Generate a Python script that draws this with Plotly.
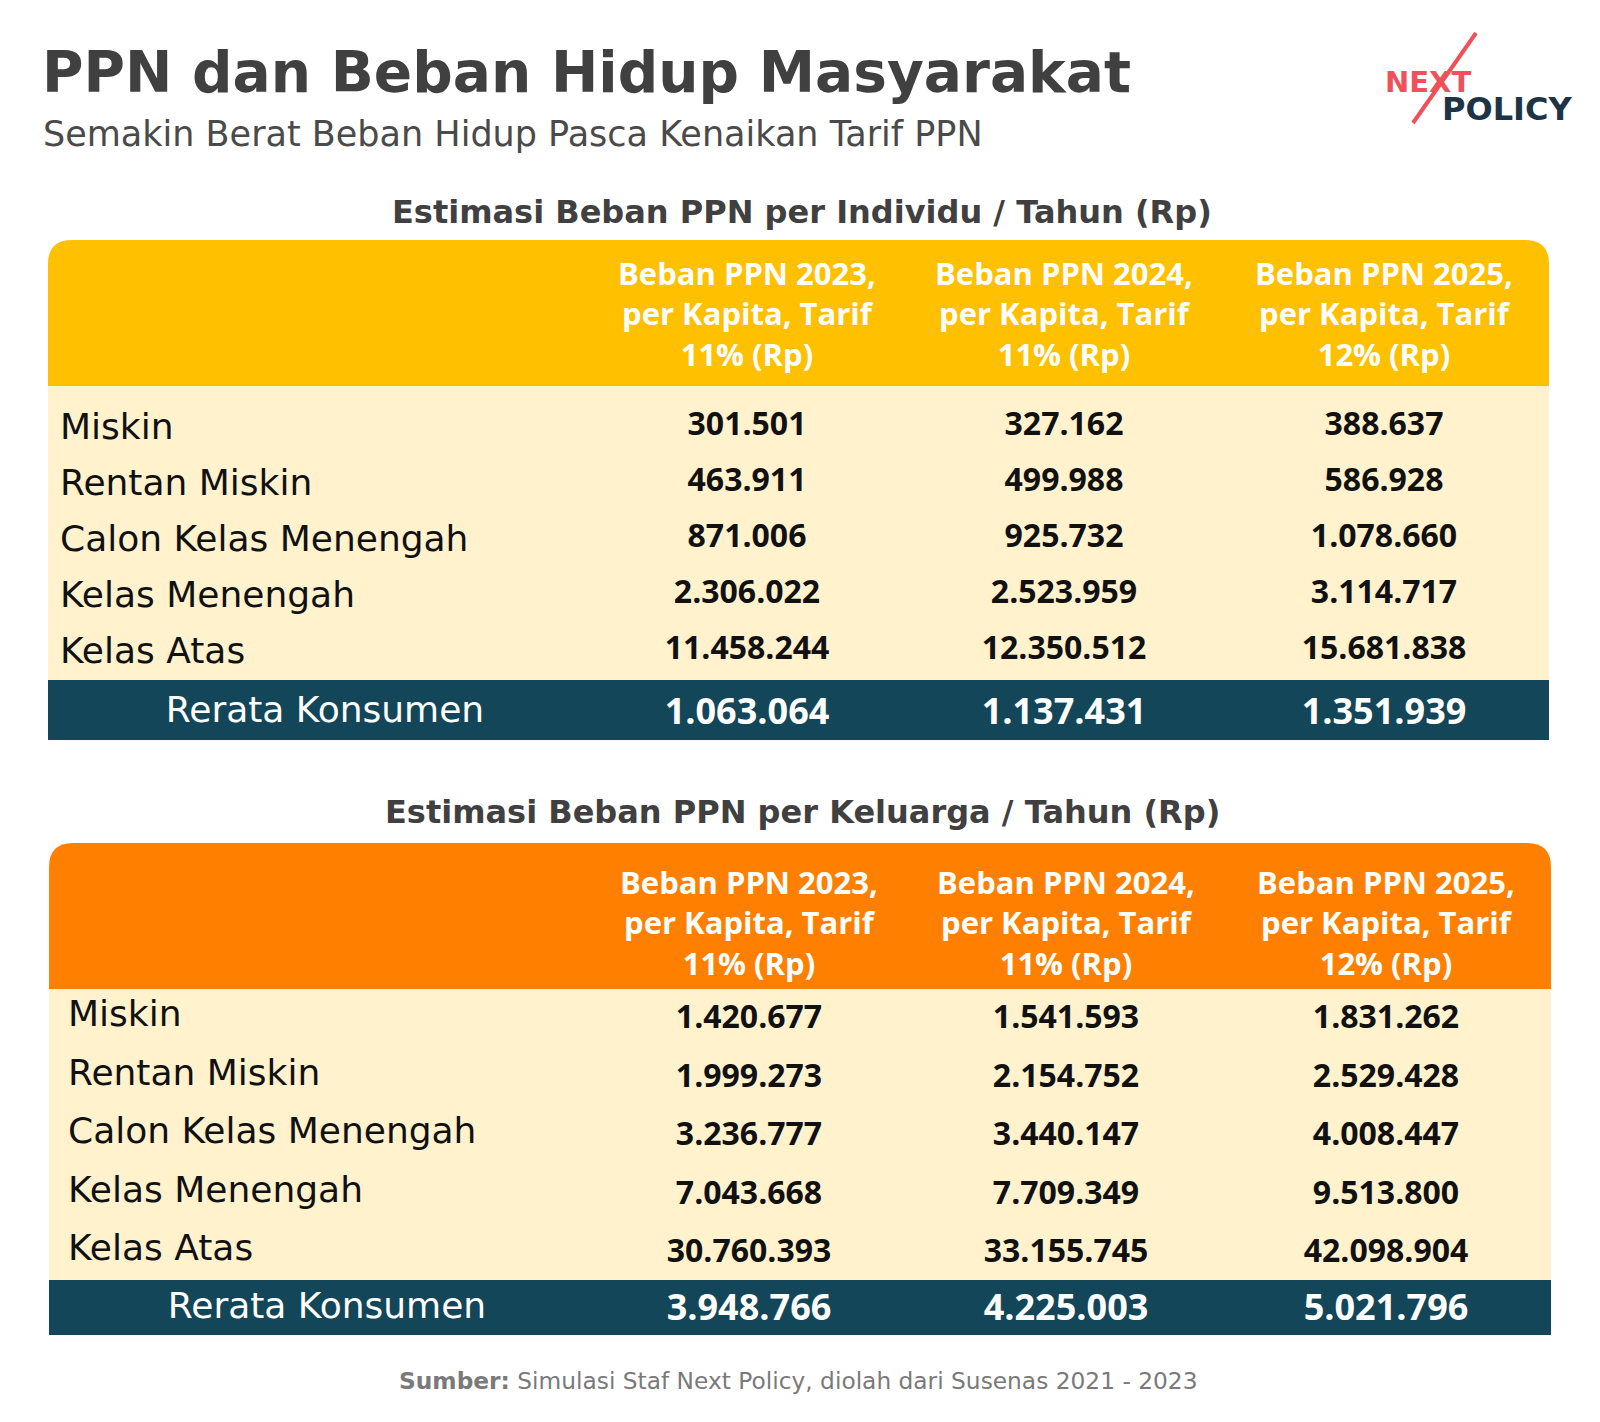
import plotly.graph_objects as go

# ---- data ----
row_labels = ["Miskin", "Rentan Miskin", "Calon Kelas Menengah", "Kelas Menengah", "Kelas Atas"]
footer_label = "Rerata Konsumen"
col_headers_ind = [
    "Beban PPN 2023,<br>per Kapita, Tarif<br>11% (Rp)",
    "Beban PPN 2024,<br>per Kapita, Tarif<br>11% (Rp)",
    "Beban PPN 2025,<br>per Kapita, Tarif<br>12% (Rp)",
]
col_headers_kel = col_headers_ind

ind_2023 = [301501, 463911, 871006, 2306022, 11458244]
ind_2024 = [327162, 499988, 925732, 2523959, 12350512]
ind_2025 = [388637, 586928, 1078660, 3114717, 15681838]
ind_avg = [1063064, 1137431, 1351939]

kel_2023 = [1420677, 1999273, 3236777, 7043668, 30760393]
kel_2024 = [1541593, 2154752, 3440147, 7709349, 33155745]
kel_2025 = [1831262, 2529428, 4008447, 9513800, 42098904]
kel_avg = [3948766, 4225003, 5021796]

W, H = 1600, 1422
OFF = 8  # page body margin
TXT = "#404040"
CREAM = "#FFF2CC"
TEAL = "#134659"
NUM_FONT = "Open Sans"
GEO_FONT = "DejaVu Sans"


def rp(v):
    return f"{v:,}".replace(",", ".")


fig = go.Figure()
shapes = []
annotations = []


def rounded_top(x0, y0, x1, y1, r, color):
    path = (f"M {x0},{y1} L {x0},{y0 + r} Q {x0},{y0} {x0 + r},{y0} "
            f"L {x1 - r},{y0} Q {x1},{y0} {x1},{y0 + r} L {x1},{y1} Z")
    return dict(type="path", path=path, fillcolor=color, line_width=0, layer="below")


def draw_table(x0, x1, top, head_h, body_h, foot_h, head_color, headers, cols, avgs,
               col_x, label_x, foot_x, row_first, row_step, num_dy, head_dy, foot_dy):
    head_bot = top + head_h
    body_bot = head_bot + body_h
    foot_bot = body_bot + foot_h
    shapes.append(rounded_top(x0, top, x1, head_bot, 24, head_color))
    shapes.append(dict(type="rect", x0=x0, x1=x1, y0=head_bot, y1=body_bot,
                       fillcolor=CREAM, line_width=0, layer="below"))
    shapes.append(dict(type="rect", x0=x0, x1=x1, y0=body_bot, y1=foot_bot,
                       fillcolor=TEAL, line_width=0, layer="below"))
    # headers
    for cx, htxt in zip(col_x, headers):
        annotations.append(dict(x=cx, y=(top + head_bot) / 2 + head_dy, text=f"<b>{htxt}</b>",
                                showarrow=False, xanchor="center", yanchor="middle",
                                font=dict(family=NUM_FONT, size=31, color="white")))
    ys = [head_bot + row_first + i * row_step for i in range(len(row_labels))]
    fig.add_trace(go.Scatter(x=[label_x] * len(row_labels), y=ys, mode="text",
                             text=row_labels, textposition="middle right",
                             textfont=dict(family=GEO_FONT, size=36, color="#111111"),
                             hoverinfo="skip", showlegend=False))
    for cx, vals in zip(col_x, cols):
        fig.add_trace(go.Scatter(x=[cx] * len(vals), y=[y + num_dy for y in ys], mode="text",
                                 text=[f"<b>{rp(v)}</b>" for v in vals],
                                 textposition="middle center",
                                 textfont=dict(family=NUM_FONT, size=32, color="#111111"),
                                 hoverinfo="skip", showlegend=False))
    fy = (body_bot + foot_bot) / 2 + foot_dy
    fig.add_trace(go.Scatter(x=[foot_x], y=[fy], mode="text",
                             text=[footer_label], textposition="middle center",
                             textfont=dict(family=GEO_FONT, size=36, color="white"),
                             hoverinfo="skip", showlegend=False))
    fig.add_trace(go.Scatter(x=col_x, y=[fy + 2] * len(avgs), mode="text",
                             text=[f"<b>{rp(v)}</b>" for v in avgs],
                             textposition="middle center",
                             textfont=dict(family=NUM_FONT, size=36, color="white"),
                             hoverinfo="skip", showlegend=False))


draw_table(48, 1549, 240, 146, 294, 60, "#FFC000", col_headers_ind,
           [ind_2023, ind_2024, ind_2025], ind_avg, [747, 1064, 1384], 60, 325,
           44, 56, -3, 0, 3)
draw_table(49, 1551, 843, 146, 291, 55, "#FF8000", col_headers_kel,
           [kel_2023, kel_2024, kel_2025], kel_avg, [749, 1066, 1386], 68, 327,
           28, 58.5, 3, 6, 1)

# titles
annotations += [
    dict(x=40, y=72, text="<b>PPN dan Beban Hidup Masyarakat</b>", xanchor="left", yanchor="middle",
         showarrow=False, font=dict(family=GEO_FONT, size=56.6, color=TXT)),
    dict(x=41, y=134, text="Semakin Berat Beban Hidup Pasca Kenaikan Tarif PPN", xanchor="left",
         yanchor="middle", showarrow=False, font=dict(family=GEO_FONT, size=35, color="#4a4a4a")),
    dict(x=802, y=212, text="<b>Estimasi Beban PPN per Individu / Tahun (Rp)</b>", xanchor="center",
         yanchor="middle", showarrow=False, font=dict(family=GEO_FONT, size=32, color=TXT)),
    dict(x=802, y=812, text="<b>Estimasi Beban PPN per Keluarga / Tahun (Rp)</b>", xanchor="center",
         yanchor="middle", showarrow=False, font=dict(family=GEO_FONT, size=32, color=TXT)),
    dict(x=798, y=1380, text="<b>Sumber:</b> Simulasi Staf Next Policy, diolah dari Susenas 2021 - 2023",
         xanchor="center", yanchor="middle", showarrow=False,
         font=dict(family=GEO_FONT, size=23.3, color="#7a7a7a")),
    # logo
    dict(x=1383, y=82, text="<b>NEXT</b>", xanchor="left", yanchor="middle", showarrow=False,
         font=dict(family=GEO_FONT, size=29, color="#F0505A")),
    dict(x=1440, y=109, text="<b>POLICY</b>", xanchor="left", yanchor="middle", showarrow=False,
         font=dict(family=GEO_FONT, size=32, color="#1C3446")),
]
shapes.append(dict(type="line", x0=1476, y0=33, x1=1413, y1=123, line=dict(color="#F0505A", width=4)))

fig.update_layout(
    width=W - 2 * OFF, height=H - 2 * OFF, margin=dict(l=0, r=0, t=0, b=0),
    paper_bgcolor="white", plot_bgcolor="white",
    xaxis=dict(range=[OFF, W - OFF], visible=False, fixedrange=True),
    yaxis=dict(range=[H - OFF, OFF], visible=False, fixedrange=True),
    shapes=shapes, annotations=annotations,
)

fig.write_html("out.html")
